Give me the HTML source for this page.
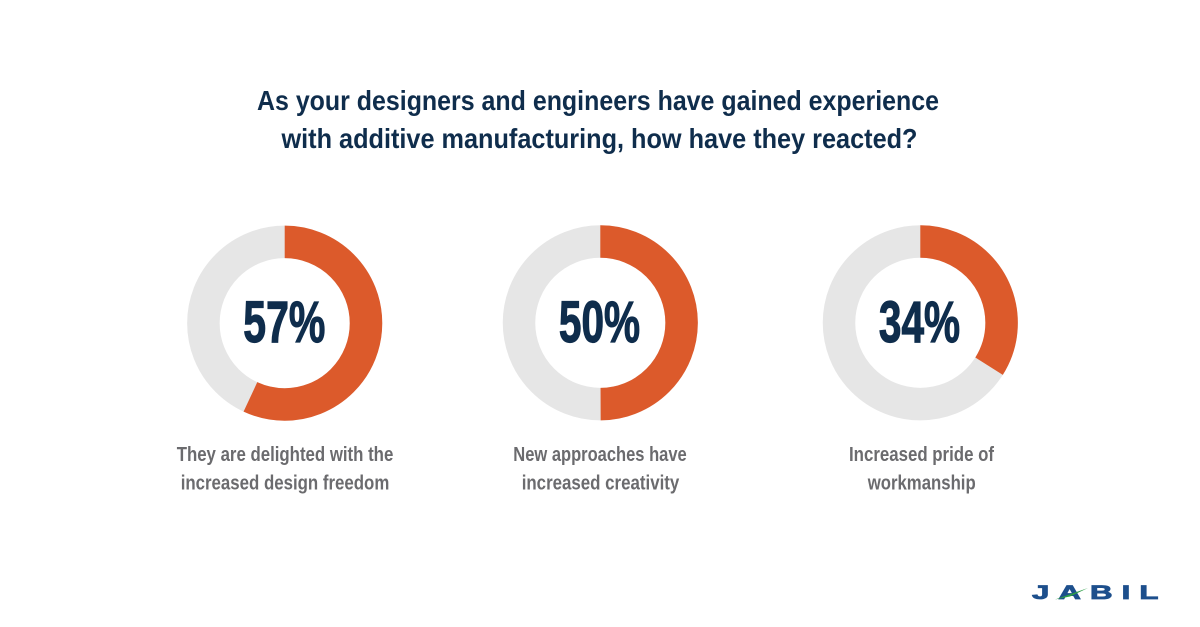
<!DOCTYPE html>
<html>
<head>
<meta charset="utf-8">
<style>
  html, body { margin: 0; padding: 0; background: #ffffff; }
  body { width: 1200px; height: 627px; overflow: hidden; }
  svg { display: block; }
  .title { font-family: "Liberation Sans", sans-serif; font-weight: bold; font-size: 28px; fill: #0f2d4c; }
  .pct { font-family: "Liberation Sans", sans-serif; font-weight: bold; font-size: 58px; fill: #0f2d4c; stroke: #0f2d4c; stroke-width: 1.2px; }
  .lbl { font-family: "Liberation Sans", sans-serif; font-weight: bold; font-size: 20.5px; fill: #6b6b6e; }
  .logo { font-family: "Liberation Sans", sans-serif; font-weight: bold; font-size: 19.5px; fill: #1d4f8c; stroke: #1d4f8c; stroke-width: 0.8px; }
</style>
</head>
<body>
<svg width="1200" height="627" viewBox="0 0 1200 627" xmlns="http://www.w3.org/2000/svg">
  <rect x="0" y="0" width="1200" height="627" fill="#ffffff"/>

  <!-- Title -->
  <text class="title" x="257" y="110" textLength="682" lengthAdjust="spacingAndGlyphs">As your designers and engineers have gained experience</text>
  <text class="title" x="281.5" y="148" textLength="636" lengthAdjust="spacingAndGlyphs">with additive manufacturing, how have they reacted?</text>

  <!-- Donut 1: 57% -->
  <circle cx="284.7" cy="323.2" r="81.3" fill="none" stroke="#e6e6e6" stroke-width="32.5"/>
  <circle cx="284.7" cy="323.2" r="81.3" fill="none" stroke="#dc5a2b" stroke-width="32.5"
          pathLength="100" stroke-dasharray="57 100" transform="rotate(-90 284.7 323.2)"/>
  <text class="pct" x="243.3" y="342.2" textLength="82" lengthAdjust="spacingAndGlyphs">57%</text>

  <!-- Donut 2: 50% -->
  <circle cx="600.3" cy="322.8" r="81.3" fill="none" stroke="#e6e6e6" stroke-width="32.5"/>
  <circle cx="600.3" cy="322.8" r="81.3" fill="none" stroke="#dc5a2b" stroke-width="32.5"
          pathLength="100" stroke-dasharray="50 100" transform="rotate(-90 600.3 322.8)"/>
  <text class="pct" x="558.9" y="342.2" textLength="81.2" lengthAdjust="spacingAndGlyphs">50%</text>

  <!-- Donut 3: 34% -->
  <circle cx="920.3" cy="322.8" r="81.3" fill="none" stroke="#e6e6e6" stroke-width="32.5"/>
  <circle cx="920.3" cy="322.8" r="81.3" fill="none" stroke="#dc5a2b" stroke-width="32.5"
          pathLength="100" stroke-dasharray="34 100" transform="rotate(-90 920.3 322.8)"/>
  <text class="pct" x="878.9" y="342.2" textLength="81.2" lengthAdjust="spacingAndGlyphs">34%</text>

  <!-- Labels -->
  <text class="lbl" x="176.7" y="461" textLength="216.6" lengthAdjust="spacingAndGlyphs">They are delighted with the</text>
  <text class="lbl" x="180.7" y="489.5" textLength="208.6" lengthAdjust="spacingAndGlyphs">increased design freedom</text>

  <text class="lbl" x="513.3" y="461" textLength="173.4" lengthAdjust="spacingAndGlyphs">New approaches have</text>
  <text class="lbl" x="521.7" y="489.5" textLength="157.6" lengthAdjust="spacingAndGlyphs">increased creativity</text>

  <text class="lbl" x="849" y="461" textLength="145" lengthAdjust="spacingAndGlyphs">Increased pride of</text>
  <text class="lbl" x="867.7" y="489.5" textLength="108" lengthAdjust="spacingAndGlyphs">workmanship</text>

  <!-- JABIL logo -->
  <text class="logo" transform="translate(1032,599) scale(1.6,1)" x="0" y="0" textLength="79" lengthAdjust="spacing">JABIL</text>
  <polygon points="1055,599.5 1088,588 1070,596.5" fill="#2e9e48"/>
</svg>
</body>
</html>
